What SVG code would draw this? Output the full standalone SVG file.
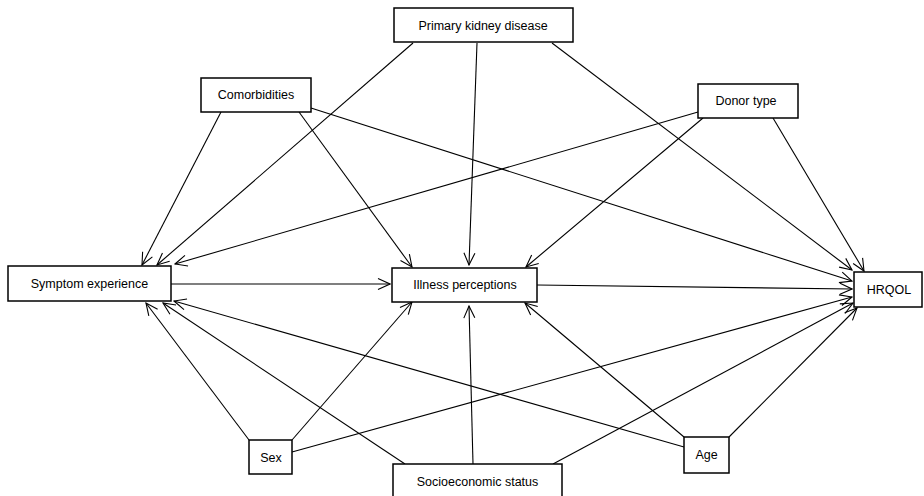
<svg xmlns="http://www.w3.org/2000/svg" width="924" height="496" viewBox="0 0 924 496">
<defs>
<marker id="arr" markerUnits="userSpaceOnUse" markerWidth="14" markerHeight="14" viewBox="0 0 14 14" refX="13" refY="7" orient="auto">
<path d="M1,1.5 L13,7 L1,12.5" fill="none" stroke="#000" stroke-width="1.1"/>
</marker>
</defs>
<style>
.box{fill:#fff;stroke:#000;stroke-width:1.5}
.lbl{font-family:"Liberation Sans",Arial,sans-serif;font-size:12.5px;fill:#000;text-anchor:middle}
.edge line{stroke:#000;stroke-width:1.1;marker-end:url(#arr)}
</style>
<rect width="924" height="496" fill="#fff"/>
<g id="connectors" class="edge">
<line x1="413" y1="43" x2="157" y2="265"/>
<line x1="477" y1="43" x2="469" y2="265"/>
<line x1="552" y1="43" x2="852" y2="270"/>
<line x1="221" y1="112" x2="142" y2="265"/>
<line x1="299" y1="112" x2="412" y2="267"/>
<line x1="311" y1="108" x2="852" y2="281"/>
<line x1="698" y1="112" x2="175" y2="264"/>
<line x1="703" y1="118" x2="526" y2="267"/>
<line x1="773" y1="118" x2="864" y2="271"/>
<line x1="171" y1="284" x2="390" y2="284"/>
<line x1="537" y1="285" x2="852" y2="289"/>
<line x1="249" y1="440" x2="146" y2="303"/>
<line x1="292" y1="440" x2="412" y2="302"/>
<line x1="292" y1="452" x2="852" y2="297"/>
<line x1="405" y1="464" x2="163" y2="303"/>
<line x1="473" y1="464" x2="469" y2="306"/>
<line x1="553" y1="464" x2="853" y2="303"/>
<line x1="684" y1="447" x2="174" y2="301"/>
<line x1="684" y1="437" x2="525" y2="303"/>
<line x1="729" y1="437" x2="857" y2="308"/>
</g>
<g id="pkd"><rect class="box" x="394" y="8" width="179" height="34"/><text class="lbl" x="483" y="29.5">Primary kidney disease</text></g>
<g id="comorbidities"><rect class="box" x="201" y="78" width="110" height="34"/><text class="lbl" x="256" y="99">Comorbidities</text></g>
<g id="donor"><rect class="box" x="698" y="84" width="100" height="34"/><text class="lbl" x="746" y="105">Donor type</text></g>
<g id="symptom"><rect class="box" x="8" y="266" width="163" height="35"/><text class="lbl" x="89.5" y="287.5">Symptom experience</text></g>
<g id="illness"><rect class="box" x="392" y="268" width="145" height="34"/><text class="lbl" x="465" y="289">Illness perceptions</text></g>
<g id="hrqol"><rect class="box" x="854" y="272" width="68" height="35"/><text class="lbl" x="889" y="294">HRQOL</text></g>
<g id="sex"><rect class="box" x="249" y="440" width="43" height="34"/><text class="lbl" x="271" y="461.5">Sex</text></g>
<g id="ses"><rect class="box" x="393" y="464" width="169" height="35"/><text class="lbl" x="477.5" y="486">Socioeconomic status</text></g>
<g id="age"><rect class="box" x="684" y="437" width="45" height="36"/><text class="lbl" x="706.5" y="458.5">Age</text></g>
</svg>
